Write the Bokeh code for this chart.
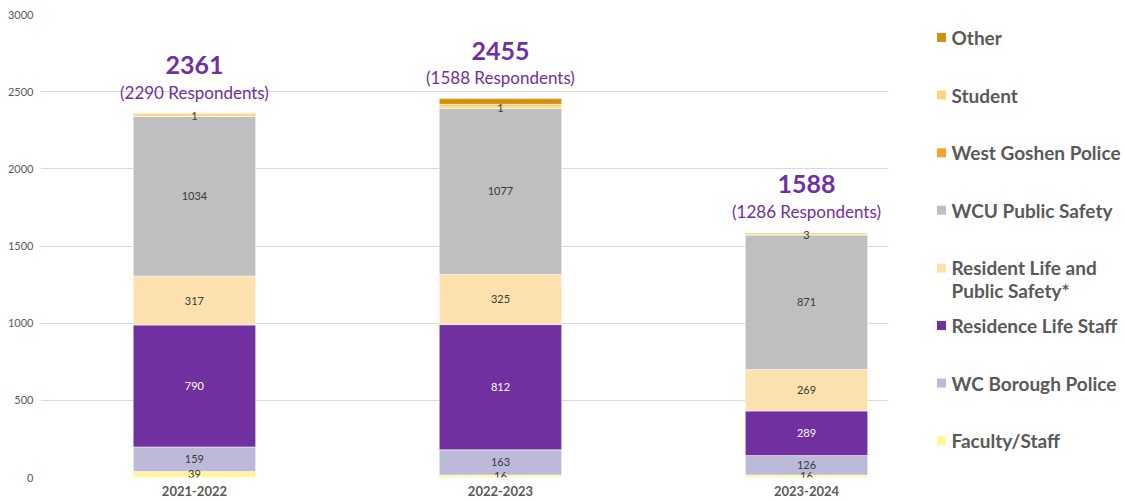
import numpy as np
from bokeh.plotting import figure
from bokeh.models import ColumnDataSource, Range1d, FixedTicker
from bokeh.layouts import row
from bokeh.core.properties import value
from bokeh.embed import file_html
from bokeh.resources import INLINE

# ---------------- data ----------------
years = ["2021-2022", "2022-2023", "2023-2024"]
faculty_staff = [39, 16, 16]
wc_borough_police = [159, 163, 126]
residence_life_staff = [790, 812, 289]
resident_life_ps = [317, 325, 269]
wcu_public_safety = [1034, 1077, 871]
west_goshen_police = [1, 1, 3]
student = [20, 24, 13]
other = [1, 37, 1]
totals = [2361, 2455, 1588]
respondents = [2290, 1588, 1286]
y_ticks = [0, 500, 1000, 1500, 2000, 2500, 3000]

series_names = ["Faculty/Staff", "WC Borough Police", "Residence Life Staff",
                "Resident Life and\nPublic Safety*", "WCU Public Safety",
                "West Goshen Police", "Student", "Other"]
series_values = [faculty_staff, wc_borough_police, residence_life_staff,
                 resident_life_ps, wcu_public_safety, west_goshen_police,
                 student, other]
series_colors = ["#FFF799", "#BDB9D9", "#7030A0", "#FCE0AE", "#BFBFBF",
                 "#F2A52A", "#FBD67E", "#D4900F"]
labelled = [True, True, True, True, True, True, False, False]

PURPLE = "#7030A0"
FONT = "Lato"
H = 502
TOP, BOTTOM = 14, 25

# ---------------- main chart ----------------
x = np.arange(len(years))
keys = [f"s{i}" for i in range(len(series_values))]
data = {"x": x}
for k, v in zip(keys, series_values):
    data[k] = v
src = ColumnDataSource(data)

p = figure(width=920, height=H, output_backend="svg", toolbar_location=None,
           x_range=Range1d(-0.503, 2.268), y_range=Range1d(0, 3000),
           min_border_left=40, min_border_right=32, min_border_top=TOP,
           min_border_bottom=BOTTOM)
p.outline_line_color = None
p.background_fill_color = "white"
p.border_fill_color = "white"

p.vbar_stack(keys, x="x", width=0.4, color=series_colors, source=src,
             line_color="white", line_width=0.5)

# segment labels
lx, ly, lt, lc = [], [], [], []
bottoms = np.zeros(len(years))
for vals, show, col in zip(series_values, labelled, series_colors):
    vals = np.array(vals, dtype=float)
    if show:
        for i in range(len(years)):
            lx.append(x[i])
            ly.append(bottoms[i] + vals[i] / 2)
            lt.append(str(int(vals[i])))
            lc.append("white" if col == PURPLE else "#3A3A3A")
    bottoms = bottoms + vals
lab_src = ColumnDataSource(dict(x=lx, y=ly, t=lt, c=lc))
p.text(x="x", y="y", text="t", source=lab_src, text_color="c",
       text_font=value(FONT), text_font_size="11px",
       text_align="center", text_baseline="middle")

# totals
tot_src = ColumnDataSource(dict(x=x, y=totals,
                                t=[str(t) for t in totals],
                                r=[f"({r} Respondents)" for r in respondents]))
p.text(x="x", y="y", text="t", source=tot_src, text_color=PURPLE,
       text_font=value(FONT), text_font_size="25px", text_font_style="bold",
       text_align="center", text_baseline="middle", y_offset=-48)
p.text(x="x", y="y", text="r", source=tot_src, text_color=PURPLE,
       text_font=value(FONT), text_font_size="17px",
       text_align="center", text_baseline="middle", y_offset=-21)

# axes
p.xgrid.grid_line_color = None
p.ygrid.grid_line_color = "#D9D9D9"
p.ygrid.grid_line_width = 1
p.yaxis.ticker = FixedTicker(ticks=y_ticks)
p.ygrid.ticker = FixedTicker(ticks=y_ticks)
for ax in (p.xaxis, p.yaxis):
    ax.axis_line_color = None
    ax.major_tick_line_color = None
    ax.minor_tick_line_color = None
    ax.major_tick_out = 0
    ax.major_tick_in = 0
    ax.minor_tick_out = 0
    ax.minor_tick_in = 0
    ax.major_label_text_font = FONT
    ax.major_label_text_color = "#595959"
p.yaxis.major_label_text_font_size = "11px"
p.yaxis.major_label_standoff = 7

p.xaxis.ticker = FixedTicker(ticks=list(x))
p.xaxis.major_label_overrides = {int(i): y for i, y in zip(x, years)}
p.xaxis.major_label_text_font_size = "13px"
p.xaxis.major_label_text_font_style = "bold"
p.xaxis.major_label_standoff = 8

# ---------------- legend panel ----------------
# frame spans the same rows as the main chart frame; items spaced evenly
n = len(series_names)
frame_h = H - TOP - BOTTOM
step = 57.6
first = 23.0
y_top = -first / step
y_bot = y_top + frame_h / step
leg = figure(width=205, height=H, output_backend="svg", toolbar_location=None,
             x_range=Range1d(0, 205), y_range=Range1d(y_bot, y_top),
             min_border_left=0, min_border_right=0, min_border_top=TOP,
             min_border_bottom=BOTTOM)
leg.axis.visible = False
leg.grid.visible = False
leg.outline_line_color = None
leg.background_fill_color = "white"
leg.border_fill_color = "white"

order = list(range(n))[::-1]
leg_src = ColumnDataSource(dict(
    y=list(range(n)),
    name=[series_names[i] for i in order],
    color=[series_colors[i] for i in order]))
leg.scatter(x=21, y="y", marker="square", size=9, color="color",
            line_color=None, source=leg_src)
leg.text(x=31, y="y", text="name", source=leg_src, text_color="#595959",
         text_font=value(FONT), text_font_size="19px", text_font_style="bold",
         text_align="left", text_baseline="top", y_offset=-11.5,
         text_line_height=0.98)

layout = row(p, leg)
open("out.html", "w").write(file_html(layout, INLINE))
